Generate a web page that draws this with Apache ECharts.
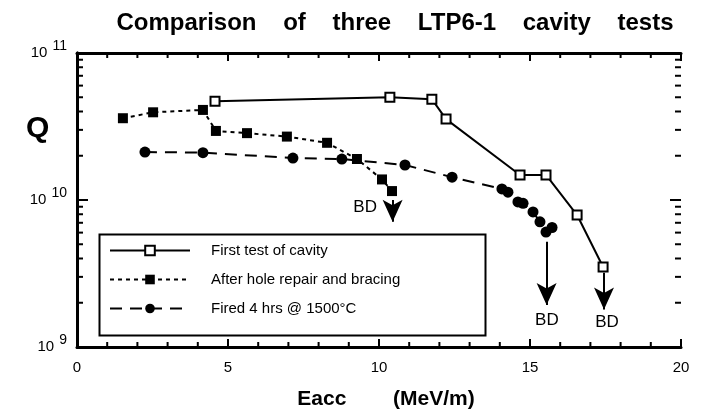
<!DOCTYPE html>
<html>
<head>
<meta charset="utf-8">
<script src="https://cdn.jsdelivr.net/npm/echarts@6/dist/echarts.min.js"></script>
<style>
html, body { margin: 0; padding: 0; background: #fff; }
#main { width: 704px; height: 411px; }
</style>
</head>
<body>
<div id="main"></div>
<script>
var FONT = '"Liberation Sans", Arial, Helvetica, sans-serif';

// First test of cavity
var eaccFirst = [4.57, 10.36, 11.75, 12.22, 14.67, 15.53, 16.56, 17.42];
var qFirst = [4.7e10, 5.0e10, 4.85e10, 3.55e10, 1.48e10, 1.48e10, 7.9e9, 3.5e9];

// After hole repair and bracing
var eaccRepair = [1.52, 2.52, 4.17, 4.6, 5.63, 6.95, 8.28, 9.27, 10.1, 10.43];
var qRepair = [3.6e10, 3.95e10, 4.1e10, 2.95e10, 2.85e10, 2.7e10, 2.45e10, 1.9e10, 1.38e10, 1.15e10];

// Fired 4 hrs @ 1500°C
var eaccFired = [2.25, 4.17, 7.15, 8.77, 10.86, 12.42, 14.07, 14.27, 14.6, 14.77, 15.1, 15.33, 15.53, 15.73];
var qFired = [2.12e10, 2.1e10, 1.93e10, 1.9e10, 1.73e10, 1.43e10, 1.19e10, 1.13e10, 9.7e9, 9.5e9, 8.3e9, 7.1e9, 6.05e9, 6.5e9];

// breakdown arrows: [eacc, qFrom, qTo]
var bdArrows = [[10.45, 1.0e10, 7.1e9], [15.55, 5.2e9, 1.93e9], [17.45, 3.2e9, 1.8e9]];
// breakdown labels: [eacc, q]
var bdLabels = [[9.54, 8.9e9], [15.56, 1.53e9], [17.55, 1.48e9]];

var seriesNames = ['First test of cavity', 'After hole repair and bracing', 'Fired 4 hrs @ 1500\u00B0C'];

// tick positions for the frame (all four sides, pointing in)
var xTickValues = [];
for (var t = 0; t <= 20; t++) xTickValues.push([t, 1e9]);
var yTickValues = [];
for (var d = 9; d <= 10; d++) {
	for (var m = 1; m <= 9; m++) yTickValues.push([0, m * Math.pow(10, d)]);
}
yTickValues.push([0, 1e11]);

function pairs(xs, ys) {
	var out = [];
	for (var i = 0; i < xs.length; i++) {
		out.push([xs[i], ys[i]]);
	}
	return out;
}

var arrowLines = bdArrows.map(function(a) {
	return [{ coord: [a[0], a[1]] }, { coord: [a[0], a[2]] }];
});
var bdPoints = bdLabels.map(function(p) {
	return { coord: p, value: 'BD' };
});

var tickStyle = { stroke: '#000', lineWidth: 2 };

function renderYTick(params, api) {
	var v = api.value(1);
	var l = api.coord([0, v]);
	var r = api.coord([20, v]);
	var e = Math.log10(v);
	var len = Math.abs(e - Math.round(e)) < 1e-6 ? 11 : 6;
	return {
		type: 'group',
		children: [
			{ type: 'line', shape: { x1: l[0], y1: l[1], x2: l[0] + len, y2: l[1] }, style: tickStyle },
			{ type: 'line', shape: { x1: r[0], y1: r[1], x2: r[0] - len, y2: r[1] }, style: tickStyle }
		]
	};
}

function renderXTick(params, api) {
	var v = api.value(0);
	var b = api.coord([v, 1e9]);
	var tp = api.coord([v, 1e11]);
	var len = v % 5 === 0 ? 8 : 5;
	return {
		type: 'group',
		children: [
			{ type: 'line', shape: { x1: b[0], y1: b[1], x2: b[0], y2: b[1] - len }, style: tickStyle },
			{ type: 'line', shape: { x1: tp[0], y1: tp[1], x2: tp[0], y2: tp[1] + len }, style: tickStyle }
		]
	};
}

var chart = echarts.init(document.getElementById('main'), null, { renderer: 'canvas' });

var xBase = {
	type: 'value', min: 0, max: 20, interval: 5,
	axisLine: { show: true, lineStyle: { color: '#000', width: 3 } },
	axisTick: { show: false },
	splitLine: { show: false }
};
var yBase = {
	type: 'log', logBase: 10, min: 1e9, max: 1e11,
	axisLine: { show: true, lineStyle: { color: '#000', width: 3 } },
	axisTick: { show: false },
	splitLine: { show: false }
};

var option = {
	animation: false,
	backgroundColor: '#fff',
	title: {
		text: 'Comparison    of    three    LTP6-1    cavity    tests',
		left: 390, top: 6, textAlign: 'center',
		textStyle: { fontFamily: FONT, fontWeight: 'bold', fontSize: 24, color: '#000' }
	},
	grid: { left: 77, right: 23, top: 53, bottom: 64, outerBoundsMode: 'none', containLabel: false },
	legend: {
		orient: 'vertical', left: 104, top: 238,
		itemWidth: 80, itemHeight: 12, itemGap: 14,
		data: seriesNames,
		textStyle: { fontFamily: FONT, fontSize: 15, color: '#000', padding: [0, 0, 0, 16] }
	},
	xAxis: [
		Object.assign({}, xBase, {
			position: 'bottom',
			name: 'Eacc        (MeV/m)', nameLocation: 'middle', nameGap: 42,
			nameTextStyle: { fontFamily: FONT, fontWeight: 'bold', fontSize: 21, color: '#000', padding: [0, 0, 0, 14] },
			axisLabel: { margin: 13, fontFamily: FONT, fontSize: 15, color: '#000' }
		}),
		Object.assign({}, xBase, { position: 'top', axisLabel: { show: false } })
	],
	yAxis: [
		Object.assign({}, yBase, {
			position: 'left',
			axisLabel: {
				margin: 10, fontFamily: FONT, fontSize: 15, color: '#000',
				formatter: function(v) {
					return '10{s|' + Math.round(Math.log10(v)) + '}';
				},
				rich: { s: { fontFamily: FONT, fontSize: 14, color: '#000', padding: [0, 0, 14, 5] } }
			}
		}),
		Object.assign({}, yBase, { position: 'right', axisLabel: { show: false } })
	],
	graphic: [
		{
			type: 'rect', left: 97, top: 232,
			shape: { width: 386, height: 101 },
			style: { fill: 'none', stroke: '#000', lineWidth: 2 }
		},
		{
			type: 'text', left: 26, top: 114,
			style: { text: 'Q', fontFamily: FONT, fontWeight: 'bold', fontSize: 30, fill: '#000' }
		}
	],
	series: [
		{
			name: seriesNames[0], type: 'line',
			data: pairs(eaccFirst, qFirst),
			symbol: 'rect', symbolSize: 9,
			itemStyle: { color: '#fff', borderColor: '#000', borderWidth: 2 },
			lineStyle: { color: '#000', width: 2, type: 'solid' },
			markLine: {
				silent: true, symbol: ['none', 'arrow'], symbolSize: [15, 22],
				label: { show: false },
				lineStyle: { color: '#000', width: 2, type: 'solid' },
				data: arrowLines
			},
			markPoint: {
				silent: true, symbol: 'circle', symbolSize: 0,
				label: { show: true, formatter: 'BD', fontFamily: FONT, fontSize: 17, color: '#000' },
				data: bdPoints
			}
		},
		{
			name: seriesNames[1], type: 'line',
			data: pairs(eaccRepair, qRepair),
			symbol: 'rect', symbolSize: 10,
			itemStyle: { color: '#000' },
			lineStyle: { color: '#000', width: 2, type: [4, 4] }
		},
		{
			name: seriesNames[2], type: 'line',
			data: pairs(eaccFired, qFired),
			symbol: 'circle', symbolSize: 11,
			itemStyle: { color: '#000' },
			lineStyle: { color: '#000', width: 2, type: [12, 8] }
		},
		{
			name: 'yTicks', type: 'custom', silent: true, clip: false,
			data: yTickValues, renderItem: renderYTick
		},
		{
			name: 'xTicks', type: 'custom', silent: true, clip: false,
			data: xTickValues, renderItem: renderXTick
		}
	]
};

chart.setOption(option);
</script>
</body>
</html>
